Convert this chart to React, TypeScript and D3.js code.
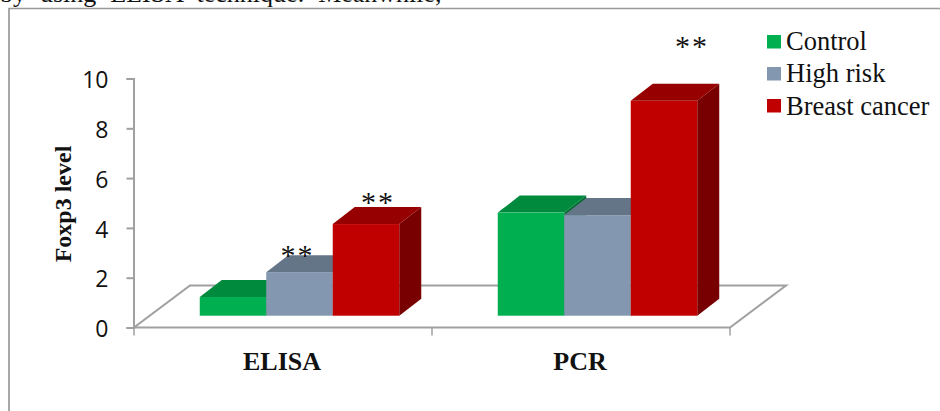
import { axisLeft, scaleBand, scaleLinear, select } from "d3";
import { useEffect, useRef } from "react";

const categories = ["ELISA", "PCR"];
const seriesNames = ["Control", "High risk", "Breast cancer"];
const elisaValues = [0.75, 1.75, 3.68];
const pcrValues = [4.14, 4.04, 8.63];
const yTicks = [0, 2, 4, 6, 8, 10];
// where the ** marks sit: category, series, level on the y scale
const marks: [number, number, number][] = [
  [0, 1, 2.52],
  [0, 2, 4.65],
  [1, 2, 10.9],
];
const markShifts = [-2, 12, 28];

const frontColors = ["#00b050", "#8497b0", "#c00000"];
const topColors = ["#008a3e", "#647587", "#960000"];
const sideColors = ["#006b30", "#4f5e70", "#780000"];

const SERIF = "'Liberation Serif', serif";
const DEPTH = { x: 56, y: -42 };
const BAR_DEPTH = { x: 22, y: -17 };
const BAR_SHIFT = { x: 16.5, y: -11.8 };

const poly = (pts: number[][]) => pts.map((p) => p.join(",")).join(" ");

const App = () => {
  const ref = useRef<SVGSVGElement>(null);

  useEffect(() => {
    if (!ref.current) return;
    const svg = select(ref.current);
    svg.selectAll("*").remove();

    const yScale = scaleLinear().domain([0, 10]).range([327.5, 78.5]);
    const xScale = scaleBand<string>().domain(categories).range([134, 730]);
    const inner = scaleBand<number>().domain([0, 1, 2]).range([0, 199.5]);
    const barX = (c: number, s: number) =>
      (xScale(categories[c]) as number) +
      xScale.bandwidth() / 2 -
      inner.range()[1] / 2 +
      BAR_SHIFT.x +
      (inner(s) as number);

    // leftover line of the page and the frame
    svg
      .append("text")
      .attr("x", 0)
      .attr("y", 1.5)
      .attr("font-family", SERIF)
      .attr("font-size", 26)
      .attr("word-spacing", 7.5)
      .attr("fill", "#111")
      .text("by using ELISA technique. Meanwhile,");
    svg
      .append("path")
      .attr("d", "M9,411V8.5H940")
      .attr("fill", "none")
      .attr("stroke", "#999")
      .attr("stroke-width", 1.7);

    // floor
    const y0 = yScale(0);
    const x0 = xScale.range()[0];
    const x1 = xScale.range()[1];
    svg
      .append("path")
      .attr(
        "d",
        `M${x0},${y0}L${x1},${y0}L${x1 + DEPTH.x},${y0 + DEPTH.y}L${x0 + DEPTH.x},${y0 + DEPTH.y}Z`
      )
      .attr("fill", "none")
      .attr("stroke", "#a0a0a0")
      .attr("stroke-width", 2);

    // y axis
    const yAxis = axisLeft(yScale).tickValues(yTicks).tickSize(7).tickPadding(18);
    const gy = svg
      .append("g")
      .attr("transform", `translate(${x0 - 0.5},0)`)
      .call(yAxis);
    gy.selectAll("path,line").attr("stroke", "#a0a0a0").attr("stroke-width", 2);
    gy.selectAll("text")
      .attr("font-family", "'Open Sans'")
      .attr("font-size", 23)
      .attr("dy", "0.4em")
      .attr("fill", "#111");

    // category ticks and labels
    [x0, x0 + xScale.bandwidth(), x1].forEach((x) => {
      svg
        .append("line")
        .attr("x1", x)
        .attr("x2", x)
        .attr("y1", y0)
        .attr("y2", y0 + 8)
        .attr("stroke", "#a0a0a0")
        .attr("stroke-width", 1.5);
    });
    categories.forEach((c) => {
      svg
        .append("text")
        .attr("x", (xScale(c) as number) + xScale.bandwidth() / 2 - 1)
        .attr("y", 370)
        .attr("text-anchor", "middle")
        .attr("font-family", SERIF)
        .attr("font-weight", "bold")
        .attr("font-size", 26)
        .attr("fill", "#111")
        .text(c);
    });

    svg
      .append("text")
      .attr("transform", "translate(70.5,204) rotate(-90)")
      .attr("text-anchor", "middle")
      .attr("font-family", SERIF)
      .attr("font-weight", "bold")
      .attr("font-size", 24)
      .attr("fill", "#111")
      .text("Foxp3 level");

    // bars, left to right so that each one covers the side of the one before
    [elisaValues, pcrValues].forEach((values, c) => {
      values.forEach((v, s) => {
        const x = barX(c, s);
        const w = inner.bandwidth();
        const top = yScale(v) + BAR_SHIFT.y;
        const base = y0 + BAR_SHIFT.y;
        const dx = BAR_DEPTH.x;
        const dy = BAR_DEPTH.y;
        svg
          .append("polygon")
          .attr("points", poly([[x + w, top], [x + w + dx, top + dy], [x + w + dx, base + dy], [x + w, base]]))
          .attr("fill", sideColors[s]);
        svg
          .append("polygon")
          .attr("points", poly([[x, top], [x + dx, top + dy], [x + w + dx, top + dy], [x + w, top]]))
          .attr("fill", topColors[s]);
        svg
          .append("rect")
          .attr("x", x)
          .attr("y", top)
          .attr("width", w)
          .attr("height", base - top)
          .attr("fill", frontColors[s]);
      });
    });

    // significance marks
    marks.forEach(([c, s, level], i) => {
      svg
        .append("text")
        .attr("x", barX(c, s) + inner.bandwidth() / 2 + markShifts[i])
        .attr("y", yScale(level))
        .attr("text-anchor", "middle")
        .attr("font-family", SERIF)
        .attr("font-size", 30)
        .attr("letter-spacing", 2)
        .attr("fill", "#111")
        .text("**");
    });

    // legend
    seriesNames.forEach((name, i) => {
      const row = svg.append("g").attr("transform", `translate(767,${35 + i * 32})`);
      row.append("rect").attr("width", 14).attr("height", 13.5).attr("fill", frontColors[i]);
      row
        .append("text")
        .attr("x", 19)
        .attr("y", 15 + i * 0.4)
        .attr("font-family", SERIF)
        .attr("font-size", 26.5)
        .attr("fill", "#111")
        .text(name);
    });
  }, []);

  return (
    <svg
      ref={ref}
      width={940}
      height={411}
      style={{ position: "fixed", left: 0, top: 0, background: "#fff" }}
    />
  );
};

export default App;
